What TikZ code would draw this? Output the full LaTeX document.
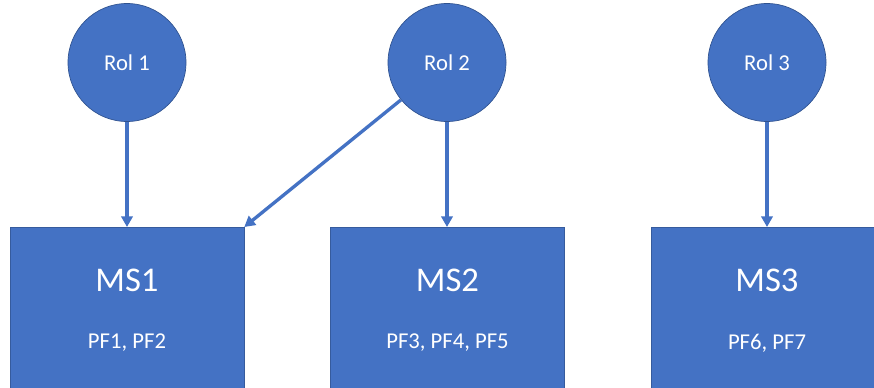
\documentclass[tikz,border=0pt]{standalone}
\usepackage{fontspec}
\setmainfont{Carlito}
\usetikzlibrary{arrows.meta}
\definecolor{officeblue}{HTML}{4472C4}
\definecolor{darkblue}{HTML}{2F528F}
\begin{document}
\begin{tikzpicture}[x=0.75pt,y=-0.75pt]
		\tikzset{rol/.style = {shape=circle,fill=officeblue,draw=darkblue,line width=0.5pt,minimum size=88.5pt,inner sep=0pt,text=white,font=\fontsize{17pt}{19pt}\selectfont}}
		\tikzset{ms/.style = {shape=rectangle,fill=officeblue,draw=officeblue!80!black,line width=0.4pt,minimum width=175.5pt,minimum height=135pt,anchor=north,inner sep=0pt}}
		\tikzset{title/.style = {text=white,font=\fontsize{26pt}{28pt}\selectfont}}
		\tikzset{pf/.style = {text=white,font=\fontsize{17pt}{19pt}\selectfont}}
		\tikzset{edge/.style = {officeblue,line width=2.5pt,-{Triangle[length=8pt,width=8.5pt]}}}
		\clip (0,0) rectangle (874,387);
		\fill[white] (0,0) rectangle (874,387);
		% Roles
		\node[rol] (r1) at (127,62.5) {Rol 1};
		\node[rol] (r2) at (447,62.5) {Rol 2};
		\node[rol] (r3) at (767,62.5) {Rol 3};
		% Microservices
		\node[ms] (ms1) at (127,227) {};
		\node[ms] (ms2) at (447.5,227) {};
		\node[ms] (ms3) at (768,227) {};
		\node[title] (ms1t) at (127,280) {MS1};
		\node[title] (ms2t) at (447.5,280) {MS2};
		\node[title] (ms3t) at (767,280) {MS3};
		\node[pf] (ms1p) at (127,343) {PF1, PF2};
		\node[pf] (ms2p) at (447.5,343) {PF3, PF4, PF5};
		\node[pf] (ms3p) at (767,343) {PF6, PF7};
		% Arrows
		\draw[edge] (r1) -- (ms1);
		\draw[edge] (r2) -- (ms1.north east);
		\draw[edge] (r2) -- (r2 |- ms2.north);
		\draw[edge] (r3) -- (r3 |- ms3.north);
	\end{tikzpicture}
\end{document}
